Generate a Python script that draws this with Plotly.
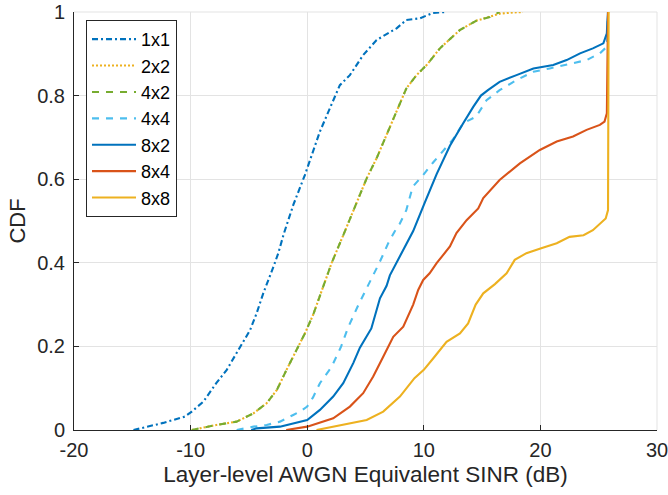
import plotly.graph_objects as go

# ---- data (SINR in dB, CDF value) ----
sinr_1x1 = [-14.9, -12.35, -10.5, -9.9, -8.9, -7.8, -6.9, -5.77, -4.9, -4.34, -3.77, -2.9, -2.48, -2.0,
            -1.2, -0.2, 0.52, 1.09, 1.95, 2.8, 3.66, 4.8, 5.95, 7.67, 8.5, 9.67, 10.8, 11.9]
cdf_1x1 = [0.0, 0.017, 0.032, 0.044, 0.068, 0.112, 0.144, 0.199, 0.239, 0.279, 0.327, 0.39, 0.423, 0.47,
           0.538, 0.61, 0.666, 0.714, 0.77, 0.825, 0.849, 0.897, 0.933, 0.961, 0.981, 0.985, 0.998, 1.0]

sinr_2x2 = [-9.9, -7.8, -6.05, -4.6, -3.48, -2.6, -1.77, -0.91, -0.2, 0.5, 1.2, 2.09, 3.3, 4.24, 5.1,
            5.95, 6.81, 7.67, 8.5, 9.38, 10.24, 11.38, 12.2, 13.1, 14.5, 15.67, 16.5, 17.7, 18.5]
cdf_2x2 = [0.0, 0.012, 0.02, 0.04, 0.064, 0.096, 0.144, 0.191, 0.231, 0.275, 0.33, 0.399, 0.48, 0.546, 0.602,
           0.65, 0.706, 0.762, 0.817, 0.849, 0.873, 0.913, 0.935, 0.957, 0.979, 0.988, 0.996, 0.999, 1.0]

sinr_4x2 = [-9.9, -7.8, -6.05, -4.6, -3.48, -2.6, -1.77, -0.91, -0.2, 0.5, 1.2, 2.09, 3.3, 4.24, 5.1,
            5.95, 6.81, 7.67, 8.5, 9.38, 10.24, 11.38, 12.2, 13.1, 14.5, 15.67, 16.5]
cdf_4x2 = [0.0, 0.012, 0.02, 0.04, 0.064, 0.096, 0.144, 0.191, 0.231, 0.275, 0.33, 0.399, 0.48, 0.546, 0.602,
           0.65, 0.706, 0.762, 0.817, 0.849, 0.873, 0.913, 0.935, 0.957, 0.979, 0.988, 1.0]

sinr_4x4 = [-6.05, -4.6, -3.48, -2.34, -1.2, -0.63, 0.0, 0.5, 1.09, 2.09, 2.9, 3.5, 4.4, 5.38, 6.24, 6.95,
            7.5, 7.95, 8.5, 9.05, 9.95, 10.8, 11.38, 11.95, 12.5, 13.38, 14.5, 15.38, 16.5, 17.95, 19.4,
            20.8, 22.8, 23.96, 25.1, 25.7, 25.8]
cdf_4x4 = [0.0, 0.008, 0.012, 0.02, 0.036, 0.044, 0.056, 0.078, 0.112, 0.151, 0.199, 0.245, 0.3, 0.355, 0.403, 0.447,
           0.475, 0.494, 0.526, 0.582, 0.61, 0.64, 0.658, 0.678, 0.695, 0.734, 0.75, 0.789, 0.813, 0.837, 0.857,
           0.865, 0.877, 0.885, 0.901, 0.917, 1.0]

sinr_8x2 = [-4.8, -4.34, -2.34, -1.2, 0.0, 1.09, 2.23, 3.09, 3.95, 4.52, 5.5, 6.24, 6.81, 7.09, 7.95, 9.09,
            10.1, 11.1, 12.24, 12.52, 13.38, 14.24, 14.9, 15.5, 16.5, 17.95, 19.4, 21.1, 22.25, 23.4, 24.5,
            25.4, 25.7, 25.75, 25.8]
cdf_8x2 = [0.0, 0.004, 0.008, 0.016, 0.024, 0.048, 0.08, 0.112, 0.16, 0.197, 0.243, 0.315, 0.345, 0.37, 0.415, 0.476,
           0.545, 0.612, 0.68, 0.694, 0.734, 0.773, 0.8, 0.813, 0.833, 0.849, 0.865, 0.873, 0.885, 0.901, 0.913,
           0.925, 0.949, 0.98, 1.0]

sinr_8x4 = [-1.8, 0.0, 2.23, 3.66, 4.8, 5.66, 6.52, 7.38, 8.24, 9.09, 9.52, 9.95, 10.5, 11.1, 12.24, 12.8,
            13.67, 14.67, 15.1, 16.5, 18.24, 19.95, 21.4, 22.8, 23.96, 25.1, 25.5, 25.7, 25.8]
cdf_8x4 = [0.0, 0.008, 0.028, 0.056, 0.088, 0.128, 0.175, 0.223, 0.247, 0.3, 0.335, 0.359, 0.375, 0.399, 0.439, 0.471,
           0.502, 0.53, 0.555, 0.598, 0.638, 0.67, 0.69, 0.702, 0.718, 0.73, 0.738, 0.758, 1.0]

sinr_8x8 = [0.8, 3.1, 5.1, 6.52, 7.95, 9.2, 10.0, 10.8, 11.95, 13.1, 13.8, 14.45, 15.1, 16.1, 17.1, 17.8,
            18.8, 20.07, 21.4, 22.5, 23.7, 24.5, 25.1, 25.6, 25.8, 25.85]
cdf_8x8 = [0.0, 0.012, 0.024, 0.044, 0.08, 0.124, 0.144, 0.171, 0.211, 0.231, 0.255, 0.3, 0.327, 0.349, 0.375, 0.407,
           0.423, 0.435, 0.447, 0.462, 0.466, 0.478, 0.493, 0.506, 0.526, 1.0]

x_tick_vals = [-20, -10, 0, 10, 20, 30]
x_tick_text = ["-20", "-10", "0", "10", "20", "30"]
y_tick_vals = [0, 0.2, 0.4, 0.6, 0.8, 1]
y_tick_text = ["0", "0.2", "0.4", "0.6", "0.8", "1"]

series = [
    ("1x1", sinr_1x1, cdf_1x1, "#0072BD", "6px,3px,2px,3px"),
    ("2x2", sinr_2x2, cdf_2x2, "#EDB120", "2px,2px"),
    ("4x2", sinr_4x2, cdf_4x2, "#77AC30", "7px,7px"),
    ("4x4", sinr_4x4, cdf_4x4, "#4DBEEE", "7px,7px"),
    ("8x2", sinr_8x2, cdf_8x2, "#0072BD", "solid"),
    ("8x4", sinr_8x4, cdf_8x4, "#D95319", "solid"),
    ("8x8", sinr_8x8, cdf_8x8, "#EDB120", "solid"),
]

FONT = "Liberation Sans, Arial, Helvetica, sans-serif"
GRID = "#e3e3e3"
fig = go.Figure()
for name, xs, ys, col, dash in series:
    fig.add_trace(go.Scatter(x=xs, y=ys, mode="lines", name=name,
                             line=dict(color=col, width=2.1, dash=dash)))

axis_common = dict(showline=True, linecolor="#262626", linewidth=1, mirror=False,
                   ticks="inside", ticklen=5, tickcolor="#262626", tickwidth=1,
                   showgrid=True, gridcolor=GRID, gridwidth=1, zeroline=False,
                   ticklabeloverflow="allow",
                   tickfont=dict(family=FONT, size=20, color="#262626"))

fig.update_xaxes(range=[-20, 30], tickvals=x_tick_vals, ticktext=x_tick_text,
                 title=dict(text="Layer-level AWGN Equivalent SINR (dB)",
                            font=dict(family=FONT, size=22.5, color="#262626"), standoff=6),
                 ticklabelstandoff=2, **axis_common)
fig.update_yaxes(range=[0, 1], tickvals=y_tick_vals, ticktext=y_tick_text,
                 title=dict(text="CDF", font=dict(family=FONT, size=22, color="#262626"), standoff=5),
                 ticklabelstandoff=4, **axis_common)

# grid lines at the upper / right edge of the axes (MATLAB draws them)
fig.add_shape(type="line", xref="paper", yref="paper", x0=0, x1=1, y0=1, y1=1,
              line=dict(color=GRID, width=1), layer="below")
fig.add_shape(type="line", xref="paper", yref="paper", x0=1, x1=1, y0=0, y1=1,
              line=dict(color=GRID, width=1), layer="below")

fig.update_layout(
    width=668, height=495,
    margin=dict(l=74, r=11, t=12, b=65, autoexpand=False),
    paper_bgcolor="white", plot_bgcolor="white",
    font=dict(family=FONT, color="#262626"),
    legend=dict(x=0.0206, y=0.981, xanchor="left", yanchor="top",
                bgcolor="white", bordercolor="#262626", borderwidth=1,
                font=dict(family=FONT, size=18, color="black"),
                tracegroupgap=0, itemwidth=44),
    showlegend=True,
)

fig.write_html("out.html", config={"displayModeBar": False},
               post_script="document.body.style.margin='0px';document.body.style.overflow='hidden';")
